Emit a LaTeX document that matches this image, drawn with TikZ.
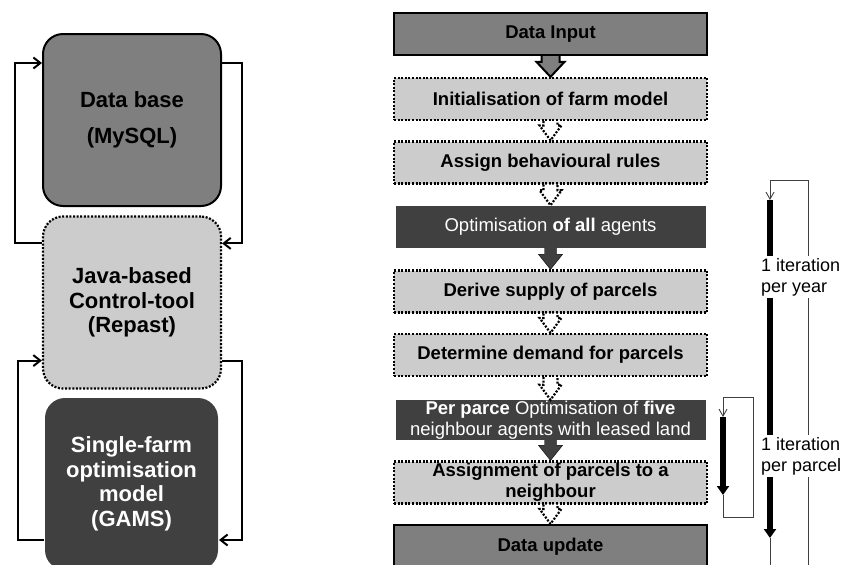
\documentclass[tikz,border=0pt]{standalone}
\usepackage{fontspec}
\setmainfont{Liberation Sans}
\usepackage{tikz}
\usetikzlibrary{arrows.meta}
\usetikzlibrary{calc}
\definecolor{boxmid}{HTML}{7F7F7F}
\definecolor{boxlight}{HTML}{CCCCCC}
\definecolor{boxdark}{HTML}{404040}
\tikzstyle{dots}=[draw=black, line width=2.2pt, dash pattern=on 2pt off 1.6pt]
\tikzstyle{leftbox}=[rounded corners=20pt, line width=2pt, minimum width=178pt, minimum height=172pt, align=center, font=\bfseries\fontsize{22}{24.5}\selectfont]
\tikzstyle{flow}=[minimum width=313pt, minimum height=42pt, inner sep=0pt, align=center, font=\bfseries\fontsize{18.5}{21}\selectfont]
\tikzstyle{darkflow}=[flow, fill=boxdark, text=white, minimum width=310pt, font=\fontsize{18.5}{21}\selectfont]
\tikzstyle{link}=[line width=2pt, -{Straight Barb[length=7pt, width=11pt]}]
\tikzstyle{solidarrow}=[draw=black, line width=2pt, fill=boxmid]
\tikzstyle{dotarrow}=[dots, fill=white]
\tikzstyle{darkarrow}=[fill=boxdark]
\tikzstyle{bar}=[line width=5.5pt, -{Triangle[length=9pt, width=12pt]}]
\tikzstyle{back}=[line width=0.9pt, draw=black!75, -{Straight Barb[length=7pt, width=8pt]}]
\tikzstyle{itertext}=[anchor=west, fill=white, align=left, inner sep=2pt, font=\fontsize{18}{21}\selectfont]
% fat arrow between two boxes: style, from, to, half shaft, half head
\newcommand{\blockarrow}[5]{%
  \draw[#1] ($(#2.south)+(-#4,0)$) -- ($(#3.north)+(-#4,-15)$) -- ($(#3.north)+(-#5,-15)$)
    -- (#3.north) -- ($(#3.north)+(#5,-15)$) -- ($(#3.north)+(#4,-15)$) -- ($(#2.south)+(#4,0)$);}

\begin{document}
\begin{tikzpicture}[x=1pt, y=-1pt]
        \useasboundingbox (0,0) rectangle (852,565);

        % Software
        \node at (132, 120) [leftbox, draw=black, fill=boxmid] (db) {Data base\\[11pt](MySQL)};
        \node at (132, 302.5) [leftbox, dots, fill=boxlight] (java) {Java-based\\Control-tool\\(Repast)};
        \node at (131.5, 484) [leftbox, fill=boxdark, text=white, minimum width=173pt] (gams) {Single-farm\\optimisation\\model\\(GAMS)};

        % Software links
        \draw[link] ($(db.north east)+(0,30)$) -- ++(20,0) |- ($(java.north east)+(0,28)$);
        \draw[link] ($(java.north west)+(0,28)$) -- ++(-27,0) |- ($(db.north west)+(0,30)$);
        \draw[link] ($(java.south east)+(0,-29)$) -- ++(20,0) |- ($(gams.north east)+(0,143)$);
        \draw[link] ($(gams.north west)+(0,143)$) -- ++(-26,0) |- ($(java.south west)+(0,-29)$);

        % Flow
        \node at (550.5, 34) [flow, draw=black, line width=2.2pt, fill=boxmid] (input) {Data Input};
        \node at (550.5, 99) [flow, dots, fill=boxlight] (init) {Initialisation of farm model};
        \node at (550.5, 162.5) [flow, dots, fill=boxlight] (rules) {Assign behavioural rules};
        \node at (550.5, 226.5) [darkflow] (optall) {Optimisation \textbf{of all} agents};
        \node at (550.5, 291.5) [flow, dots, fill=boxlight] (supply) {Derive supply of parcels};
        \node at (550.5, 355) [flow, dots, fill=boxlight] (demand) {Determine demand for parcels};
        \node at (550.5, 420) [darkflow, minimum height=40pt] (optfive) {\textbf{Per parce} Optimisation of \textbf{five}\\neighbour agents with leased land};
        \node at (550.5, 482.5) [flow, dots, fill=boxlight] (assign) {Assignment of parcels to a\\neighbour};
        \node at (550.5, 547) [flow, draw=black, line width=2.2pt, fill=boxmid, minimum height=44pt] (update) {Data update};

        % Flow arrows
        \blockarrow{solidarrow}{input}{init}{9}{14}
        \blockarrow{dotarrow}{init}{rules}{7}{11}
        \blockarrow{dotarrow}{rules}{optall}{7}{11}
        \blockarrow{darkarrow}{optall}{supply}{6}{12}
        \blockarrow{dotarrow}{supply}{demand}{7}{11}
        \blockarrow{dotarrow}{demand}{optfive}{7}{11}
        \blockarrow{darkarrow}{optfive}{assign}{6}{12}
        \blockarrow{dotarrow}{assign}{update}{7}{11}

        % Iterations
        \coordinate (yearstart) at (770, 200);
        \coordinate (yearend) at (770, 538);
        \coordinate (parcelstart) at (723, 417);
        \coordinate (parcelend) at (723, 495);
        \draw[back] (yearend) -- ++(0,32) -| (808,180) -| (yearstart);
        \draw[back] (parcelend) -- ++(0,22) -| (753,397) -| (parcelstart);
        \draw[bar] (yearstart) -- (yearend);
        \draw[bar] (parcelstart) -- (parcelend);
        \node at (759, 277) [itertext] (peryear) {1 iteration\\per year};
        \node at (759, 456) [itertext] (perparcel) {1 iteration\\per parcel};
\end{tikzpicture}
\end{document}
